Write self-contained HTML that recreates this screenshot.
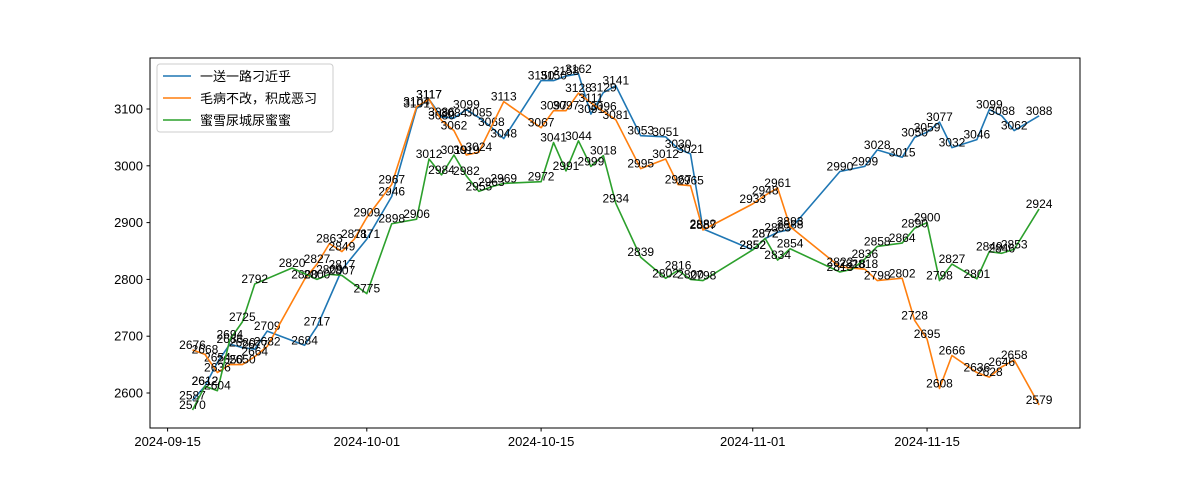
<!DOCTYPE html>
<html><head><meta charset="utf-8">
<style>
body{margin:0;background:#fff;}
svg{display:block;font-family:"Liberation Sans","Noto Sans CJK SC",sans-serif;}
</style></head>
<body>
<svg id="chart" width="1200" height="480" xmlns="http://www.w3.org/2000/svg">
<rect x="0" y="0" width="1200" height="480" fill="#fff"/>
<g id="marks"></g>
<rect x="150" y="58" width="930" height="370" fill="none" stroke="#000" stroke-width="1"/>
<g id="axes"></g>
<g>
<rect x="157" y="64" width="176" height="68" rx="3" fill="#fff" fill-opacity="0.85" stroke="#ccc"/>
<line x1="163" y1="76" x2="191" y2="76" stroke="#1f77b4" stroke-width="1.6"/>
<text x="200" y="81" font-size="13">一送一路刁近乎</text>
<line x1="163" y1="98" x2="191" y2="98" stroke="#ff7f0e" stroke-width="1.6"/>
<text x="200" y="103" font-size="13">毛病不改，积成恶习</text>
<line x1="163" y1="120" x2="191" y2="120" stroke="#2ca02c" stroke-width="1.6"/>
<text x="200" y="125" font-size="13">蜜雪尿城尿蜜蜜</text>
</g>
</svg>
<script>
const blueDays=[2,3,4,5,6,7,8,11,12,14,16,18,20,21,22,23,24,25,26,27,30,31,32,33,34,35,36,38,40,41,42,43,47,48,49,50,54,56,57,59,60,61,62,63,65,66,67,68,70];
const blueVals=[2587,2612,2654,2686,2680,2677,2709,2684,2717,2817,2871,2946,3101,3117,3086,3084,3099,3085,3068,3048,3150,3150,3158,3162,3091,3129,3141,3053,3051,3030,3021,2889,2852,2872,2883,2888,2990,2999,3028,3015,3050,3059,3077,3032,3046,3099,3088,3062,3088];
const orangeDays=[2,3,4,5,6,7,8,11,12,13,14,15,16,18,20,21,22,23,24,25,27,30,31,32,33,34,35,36,38,40,41,42,43,47,48,49,50,54,56,57,59,60,61,62,63,65,66,67,68,70];
const orangeVals=[2676,2668,2636,2650,2650,2664,2682,2800,2827,2863,2849,2871,2909,2967,3104,3117,3080,3062,3019,3024,3113,3067,3097,3097,3128,3111,3096,3081,2995,3012,2967,2965,2887,2933,2948,2961,2893,2822,2818,2798,2802,2728,2695,2608,2666,2636,2628,2646,2658,2579];
const greenDays=[2,3,4,5,6,7,10,12,13,14,16,18,20,21,22,23,24,25,26,27,30,31,32,33,34,35,36,38,40,41,42,43,47,48,49,50,54,55,56,57,59,60,61,62,63,65,66,67,68,70];
const greenVals=[2570,2612,2604,2694,2725,2792,2820,2800,2809,2807,2775,2898,2906,3012,2984,3019,2982,2955,2963,2969,2972,3041,2991,3044,2999,3018,2934,2839,2802,2816,2800,2798,2852,2872,2834,2854,2813,2818,2836,2858,2864,2890,2900,2798,2827,2801,2849,2846,2853,2924];
const yTicks=[2600,2700,2800,2900,3000,3100];
const xTickDays=[0,16,30,47,61];
const xTickLabels=["2024-09-15","2024-10-01","2024-10-15","2024-11-01","2024-11-15"];

const NS="http://www.w3.org/2000/svg";
function xs(d){return 167.6+d*12.45;}
function ys(v){return 393-(v-2600)*0.568;}
const marks=document.getElementById('marks');
const axes=document.getElementById('axes');
function mk(tag,attrs,parent){const e=document.createElementNS(NS,tag);for(const k in attrs)e.setAttribute(k,attrs[k]);parent.appendChild(e);return e;}

yTicks.forEach(v=>{
  const t=mk('line',{x1:146.5,x2:150,y1:ys(v),y2:ys(v),stroke:'#000'},axes);
  
  
  const l=mk('text',{x:143,y:ys(v)+4.5,'font-size':13,'text-anchor':'end'},axes);
  l.textContent=v;
  
  
});
xTickDays.forEach((d,i)=>{
  const t=mk('line',{x1:xs(d),x2:xs(d),y1:428,y2:431.5,stroke:'#000'},axes);
  
  
  const l=mk('text',{x:xs(d),y:446,'font-size':13,'text-anchor':'middle'},axes);
  l.textContent=xTickLabels[i];
  
  
});
function series(days,vals,color,name){
  const p=mk('polyline',{points:days.map((d,i)=>xs(d)+','+ys(vals[i])).join(' '),fill:'none',stroke:color,'stroke-width':1.6,'stroke-linejoin':'round'},marks);
  
  
  days.forEach((d,i)=>{
    const t=mk('text',{x:xs(d),y:ys(vals[i])-1,'font-size':12,'text-anchor':'middle'},marks);
    t.textContent=vals[i];
    
    
  });
}
series(blueDays,blueVals,'#1f77b4','blue-series');
series(orangeDays,orangeVals,'#ff7f0e','orange-series');
series(greenDays,greenVals,'#2ca02c','green-series');
</script>
</body></html>
